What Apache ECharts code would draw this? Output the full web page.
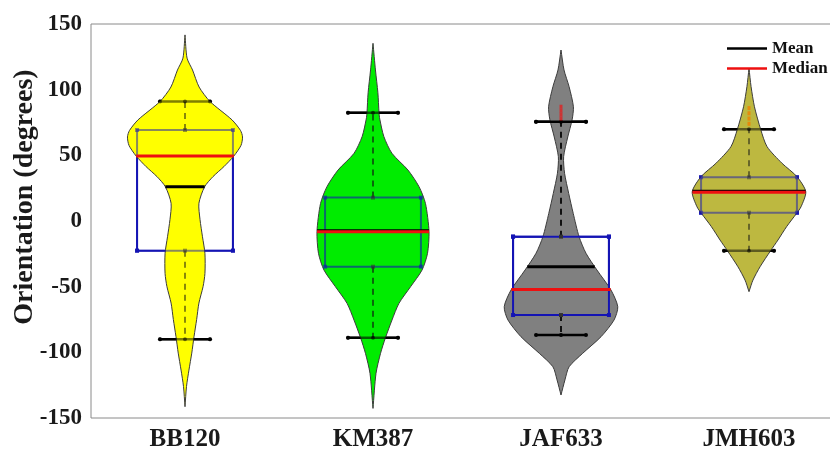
<!DOCTYPE html>
<html>
<head>
<meta charset="utf-8">
<script src="https://cdn.jsdelivr.net/npm/echarts@6/dist/echarts.min.js"></script>
<style>
html,body{margin:0;padding:0;background:#fff;}
#chart{width:830px;height:452px;}
</style>
</head>
<body>
<div id="chart"></div>
<script>
// ---------------- data ----------------
const categories = ['BB120', 'KM387', 'JAF633', 'JMH603'];
const yMin = -150, yMax = 150, yStep = 50;

// violin outlines: value levels and half-widths (fraction of category spacing)
const bb120Levels = [141.7, 124, 115, 102, 91, 77, 69, 64, 57.6, 49.5, 41.4, 33.8, 26, 13.5, 1, -12, -24.6, -40, -50, -62.5, -75, -88, -100.6, -113.5, -126, -141.4];
const bb120Widths = [0, 0.011, 0.04, 0.075, 0.133, 0.25, 0.295, 0.306, 0.298, 0.26, 0.207, 0.149, 0.104, 0.074, 0.08, 0.093, 0.106, 0.106, 0.096, 0.074, 0.062, 0.048, 0.036, 0.021, 0.008, 0];

const km387Levels = [135.3, 115, 97.7, 82.5, 77.6, 64.2, 51.5, 38.8, 26.1, 13.4, -8.1, -24.6, -37.3, -50, -62.7, -75.4, -89, -100.8, -116, -142.7];
const km387Widths = [0, 0.013, 0.026, 0.032, 0.036, 0.058, 0.101, 0.186, 0.245, 0.279, 0.298, 0.29, 0.261, 0.2, 0.138, 0.101, 0.066, 0.04, 0.016, 0];

const jaf633Levels = [130.2, 115, 102.3, 87, 77, 64, 49, 36.3, 21, 5.8, -11.9, -24.6, -37.3, -52.6, -65.3, -75.4, -88.1, -100.8, -111, -121, -132.5];
const jaf633Widths = [0, 0.016, 0.043, 0.066, 0.059, 0.036, 0.014, 0.019, 0.041, 0.065, 0.096, 0.133, 0.191, 0.266, 0.302, 0.282, 0.213, 0.115, 0.043, 0.021, 0];

const jmh603Levels = [116.3, 102.3, 87, 69.8, 56.6, 43.9, 33.8, 22.3, 10.9, 5.8, -4.3, -14.5, -22.6, -34.8, -45, -53.8];
const jmh603Widths = [0, 0.011, 0.029, 0.062, 0.096, 0.176, 0.255, 0.302, 0.277, 0.253, 0.2, 0.154, 0.115, 0.059, 0.021, 0];

// summary statistics
const q1 = [-22.6, -34.8, -71.6, 6.3];
const q3 = [69.3, 17.8, -11.9, 33.3];
const medians = [49.5, -8.1, -52.2, 21.8];
const means = [26.1, -7.5, -34.8, 22.6];
const whiskerLow = [-90.1, -88.9, -86.8, -22.6];
const whiskerHigh = [90.9, 82.5, 75.6, 69.8];
const outliersJAF633 = [87, 84, 81, 78];
const outliersJMH603 = [86, 82, 78, 74];

// ---------------- styles ----------------
const fillColors = ['#ffff00', '#00ec00', '#808080', '#bdb840'];
const overlayAlpha = [0.5, 0.6, 1, 0.5];
const boxColor = '#1414b4';
const boxHalf = 0.255;   // fraction of band
const capHalf = 0.133;
const serif = 'Liberation Serif';

const levels = [bb120Levels, km387Levels, jaf633Levels, jmh603Levels];
const widths = [bb120Widths, km387Widths, jaf633Widths, jmh603Widths];

function widthAt(i, v) {
  const L = levels[i], W = widths[i];
  for (let k = 0; k < L.length - 1; k++) {
    if (v <= L[k] && v >= L[k + 1]) {
      const t = (L[k] - v) / (L[k] - L[k + 1]);
      return W[k] + t * (W[k + 1] - W[k]);
    }
  }
  return 0;
}

function renderViolin(params, api) {
  const i = api.value(0);
  const band = api.size([1, 0])[0];
  const cx = api.coord([i, 0])[0];
  const Y = v => api.coord([i, v])[1];
  const L = levels[i], W = widths[i];

  const right = L.map((v, k) => [cx + W[k] * band, Y(v)]);
  const left = L.map((v, k) => [cx - W[k] * band, Y(v)]).reverse();
  const pts = right.concat(left);

  function boxParts(color, alpha, dotColor) {
    const bx = cx - boxHalf * band, bw = 2 * boxHalf * band;
    const yTop = Y(q3[i]), yBot = Y(q1[i]);
    const cw = capHalf * band;
    const parts = [];
    parts.push({type: 'rect', shape: {x: bx, y: yTop, width: bw, height: yBot - yTop},
      style: {fill: null, stroke: color, lineWidth: 2, opacity: alpha}});
    parts.push({type: 'line', shape: {x1: cx, y1: yTop, x2: cx, y2: Y(whiskerHigh[i])},
      style: {stroke: '#111', lineWidth: 2, lineDash: [6, 5], opacity: alpha}});
    parts.push({type: 'line', shape: {x1: cx, y1: yBot, x2: cx, y2: Y(whiskerLow[i])},
      style: {stroke: '#111', lineWidth: 2, lineDash: [6, 5], opacity: alpha}});
    [whiskerHigh[i], whiskerLow[i]].forEach(w => {
      const yy = Y(w);
      parts.push({type: 'line', shape: {x1: cx - cw, y1: yy, x2: cx + cw, y2: yy},
        style: {stroke: '#000', lineWidth: 2.5, opacity: alpha}});
      [cx - cw, cx + cw, cx].forEach(xx => parts.push({type: 'circle', shape: {cx: xx, cy: yy, r: 2},
        style: {fill: '#000', opacity: alpha}}));
    });
    [[bx, yTop], [bx + bw, yTop], [bx, yBot], [bx + bw, yBot]].forEach(p =>
      parts.push({type: 'rect', shape: {x: p[0] - 2, y: p[1] - 2, width: 4, height: 4},
        style: {fill: color, opacity: alpha}}));
    [yTop, yBot].forEach(yy => parts.push({type: 'rect', shape: {x: cx - 2, y: yy - 2, width: 4, height: 4},
      style: {fill: dotColor, opacity: alpha}}));
    return parts;
  }

  const children = [];
  boxParts(boxColor, 1, '#333').forEach(c => children.push(c));
  children.push({type: 'polygon', shape: {points: pts, smooth: 0.25},
    style: {fill: fillColors[i], stroke: '#3c3c3c', lineWidth: 1}});
  boxParts(boxColor, overlayAlpha[i], '#333').forEach(c => children.push(c));

  const mw = widthAt(i, means[i]) * band;
  children.push({type: 'line', shape: {x1: cx - mw, y1: Y(means[i]), x2: cx + mw, y2: Y(means[i])},
    style: {stroke: '#000', lineWidth: 3}});
  const dw = widthAt(i, medians[i]) * band;
  children.push({type: 'line', shape: {x1: cx - dw, y1: Y(medians[i]), x2: cx + dw, y2: Y(medians[i])},
    style: {stroke: '#ee1010', lineWidth: 3}});
  return {type: 'group', children: children};
}

const chart = echarts.init(document.getElementById('chart'), null, {renderer: 'canvas'});
chart.setOption({
  animation: false,
  backgroundColor: '#fff',
  grid: {left: 91, top: 24, width: 752, height: 394, show: true, borderColor: '#8a8a8a', borderWidth: 1,
    outerBoundsMode: 'none', containLabel: false},
  xAxis: {
    type: 'category', data: categories, boundaryGap: true,
    axisLine: {show: false}, axisTick: {show: false}, splitLine: {show: false},
    axisLabel: {fontFamily: serif, fontWeight: 'bold', fontSize: 25, color: '#1a1a1a', margin: 9}
  },
  yAxis: {
    type: 'value', min: yMin, max: yMax, interval: yStep,
    axisLine: {show: false}, axisTick: {show: false}, splitLine: {show: false},
    axisLabel: {fontFamily: serif, fontWeight: 'bold', fontSize: 23, color: '#1a1a1a', margin: 9}
  },
  graphic: [{
    type: 'text', x: 25, y: 197, rotation: Math.PI / 2,
    style: {text: 'Orientation (degrees)', fontFamily: serif, fontWeight: 'bold', fontSize: 28,
      fill: '#1a1a1a', align: 'center', verticalAlign: 'middle'}
  }],
  legend: {
    data: ['Mean', 'Median'], orient: 'vertical', left: 727, top: 40, padding: 0,
    icon: 'rect', itemWidth: 40, itemHeight: 2.5, itemGap: 3, itemTextGap: 4,
    textStyle: {fontFamily: serif, fontWeight: 'bold', fontSize: 17, color: '#111'}
  },
  series: [
    {type: 'custom', name: 'violins', renderItem: renderViolin,
      data: categories.map((c, i) => [i]), encode: {x: 0}, z: 2},
    {type: 'scatter', name: 'out1', symbol: 'rect', symbolSize: [3, 4], itemStyle: {color: '#e02020'},
      data: outliersJAF633.map(v => [2, v]), z: 5},
    {type: 'scatter', name: 'out2', symbol: 'rect', symbolSize: [3, 4], itemStyle: {color: '#f08000'},
      data: outliersJMH603.map(v => [3, v]), z: 5},
    {type: 'line', name: 'Mean', data: [], itemStyle: {color: '#000'}, lineStyle: {color: '#000'}},
    {type: 'line', name: 'Median', data: [], itemStyle: {color: '#ee1010'}, lineStyle: {color: '#ee1010'}}
  ]
});
</script>
</body>
</html>
